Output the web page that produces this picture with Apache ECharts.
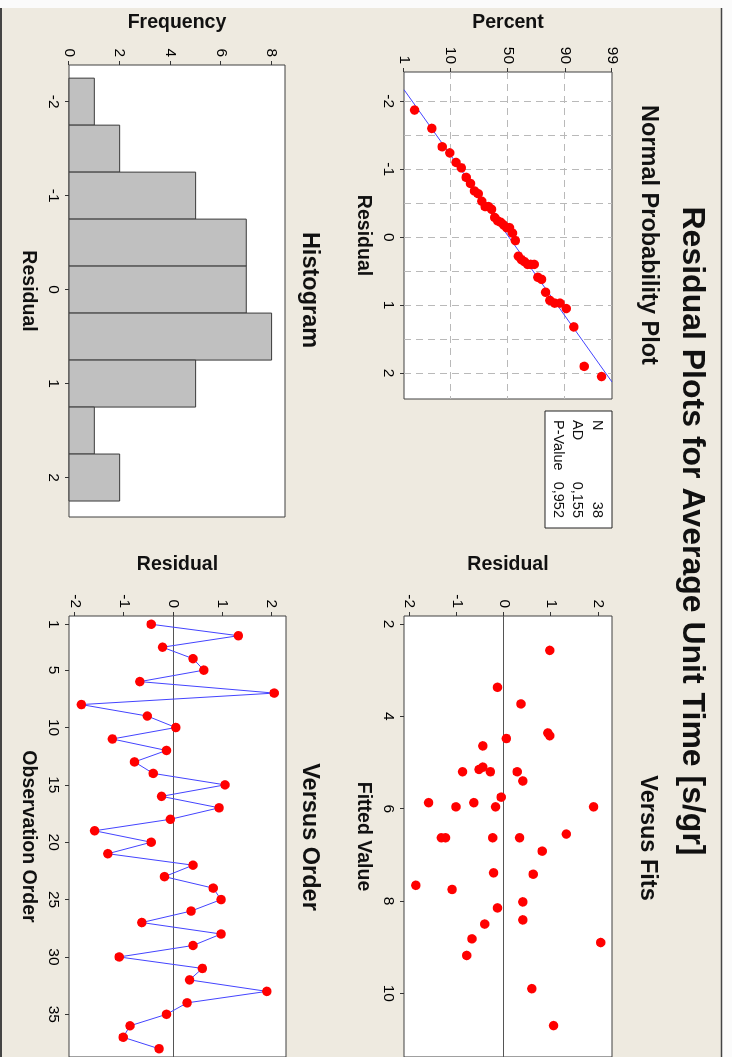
<!DOCTYPE html>
<html>
<head>
<meta charset="utf-8">
<script src="https://cdn.jsdelivr.net/npm/echarts@6/dist/echarts.min.js"></script>
<style>
html, body { margin: 0; padding: 0; background: #fff; overflow: hidden; }
/* the minitab window is landscape, the picture is turned a quarter clockwise */
#chart { position: absolute; left: 0; top: 0; width: 1057px; height: 732px;
  transform-origin: 0 0; transform: translateX(732px) rotate(90deg); }
</style>
</head>
<body>
<div id="chart"></div>
<script>
// residuals in observation order (Versus Order panel)
var residuals = [-0.45, 1.32, -0.22, 0.40, 0.62, -0.68, 2.05, -1.87, -0.53, 0.05,
    -1.24, -0.14, -0.79, -0.41, 1.05, -0.24, 0.93, -0.06, -1.60, -0.45,
    -1.33, 0.40, -0.18, 0.81, 0.97, 0.36, -0.64, 0.97, 0.40, -1.10,
    0.59, 0.33, 1.90, 0.28, -0.14, -0.88, -1.02, -0.29];
// fitted value of each observation (Versus Fits panel)
var fitted = [4.64, 6.55, 7.39, 5.40, 7.42, 8.82, 8.90, 7.66, 5.15, 4.48,
    6.63, 8.15, 9.18, 8.50, 10.70, 6.63, 4.36, 5.75, 5.87, 5.10,
    6.63, 8.02, 5.96, 6.92, 4.42, 3.73, 5.87, 2.57, 8.41, 7.75,
    9.90, 6.63, 5.96, 5.20, 3.37, 5.20, 5.96, 5.20];
// histogram
var binEdges = [-2.25, -1.75, -1.25, -0.75, -0.25, 0.25, 0.75, 1.25, 1.75, 2.25];
var binCounts = [1, 2, 5, 7, 7, 8, 5, 1, 2];
// normal line ends (residual, percent)
var npLine = [[-2.17, 1], [2.13, 99]];
// tick labels
var percentTicks = [1, 10, 50, 90, 99];
var residualTicks = [-2, -1, 0, 1, 2];
var npGridResidual = [-2, -1.5, -1, -0.5, 0, 0.5, 1, 1.5, 2];
var npGridPercent = [10, 50, 90];
var fitTicks = [2, 4, 6, 8, 10];
var freqTicks = [0, 2, 4, 6, 8];
var orderTicks = [1, 5, 10, 15, 20, 25, 30, 35];
var statNames = ['N', 'AD', 'P-Value'];
var statValues = ['38', '0,155', '0,952'];

var FONT = '"Liberation Sans", Arial, sans-serif';

//inverse normal cdf (probability paper scale)
function normInv(p) {
    var a = [-3.969683028665376e+01, 2.209460984245205e+02, -2.759285104469687e+02, 1.383577518672690e+02, -3.066479806614716e+01, 2.506628277459239e+00];
    var b = [-5.447609879822406e+01, 1.615858368580409e+02, -1.556989798598866e+02, 6.680131188771972e+01, -1.328068155288572e+01];
    var c = [-7.784894002430293e-03, -3.223964580411365e-01, -2.400758277161838e+00, -2.549671010825196e+00, 4.374664141464968e+00, 2.938163982698783e+00];
    var d = [7.784695709041462e-03, 3.224671290700398e-01, 2.445134137142996e+00, 3.754408661907416e+00];
    var q, r;
    if (p < 0.02425) {
        q = Math.sqrt(-2 * Math.log(p));
        return (((((c[0] * q + c[1]) * q + c[2]) * q + c[3]) * q + c[4]) * q + c[5]) / ((((d[0] * q + d[1]) * q + d[2]) * q + d[3]) * q + 1);
    }
    if (p > 1 - 0.02425) {
        q = Math.sqrt(-2 * Math.log(1 - p));
        return -(((((c[0] * q + c[1]) * q + c[2]) * q + c[3]) * q + c[4]) * q + c[5]) / ((((d[0] * q + d[1]) * q + d[2]) * q + d[3]) * q + 1);
    }
    q = p - 0.5;
    r = q * q;
    return (((((a[0] * r + a[1]) * r + a[2]) * r + a[3]) * r + a[4]) * r + a[5]) * q / (((((b[0] * r + b[1]) * r + b[2]) * r + b[3]) * r + b[4]) * r + 1);
}

var n = residuals.length;
var sorted = residuals.slice().sort(function (x, y) { return x - y; });
var npPoints = [];
for (var i = 0; i < n; i++) {
    npPoints.push([sorted[i], normInv((i + 1 - 0.3) / (n + 0.4))]);
}
var fitPoints = [];
var orderPoints = [];
for (var i = 0; i < n; i++) {
    fitPoints.push([fitted[i], residuals[i]]);
    orderPoints.push([i + 1, residuals[i]]);
}
var histData = [];
for (var i = 0; i < binCounts.length; i++) {
    histData.push([binEdges[i], binEdges[i + 1], binCounts[i]]);
}

var gridLines = [];
for (var i = 0; i < npGridResidual.length; i++) gridLines.push({ xAxis: npGridResidual[i] });
for (var i = 0; i < npGridPercent.length; i++) gridLines.push({ yAxis: normInv(npGridPercent[i] / 100) });

function percentLabel(v) {
    for (var i = 0; i < percentTicks.length; i++) {
        if (Math.abs(normInv(percentTicks[i] / 100) - v) < 1e-6) return String(percentTicks[i]);
    }
    return '';
}

function axis(gi, min, max, ticks, name, gap, fmt) {
    return {
        type: 'value', gridIndex: gi, min: min, max: max,
        name: name, nameLocation: 'middle', nameGap: gap,
        nameTextStyle: { fontFamily: FONT, fontSize: 19.5, fontWeight: 'bold', color: '#111' },
        axisLine: { show: false, onZero: false },
        axisTick: { show: true, length: 4, customValues: ticks, lineStyle: { color: '#333', width: 1 } },
        axisLabel: { customValues: ticks, margin: 8, fontFamily: FONT, fontSize: 15.5, color: '#000', formatter: fmt },
        splitLine: { show: false }
    };
}

var gridStyle = { show: true, backgroundColor: '#fff', borderColor: '#404040', borderWidth: 1 };

var chart = echarts.init(document.getElementById('chart'));

var titleFont = 'bold 23.5px ' + FONT;
var graphics = [
    { type: 'rect', shape: { x: 0, y: 0, width: 8, height: 732 }, style: { fill: '#fbfbfb' } },
    { type: 'rect', shape: { x: 0, y: 0, width: 1057, height: 10 }, style: { fill: '#fbfbfb' } },
    { type: 'line', shape: { x1: 8, y1: 10.5, x2: 1057, y2: 10.5 }, style: { stroke: '#444', lineWidth: 1.5 } },
    { type: 'line', shape: { x1: 8, y1: 731, x2: 1057, y2: 731 }, style: { stroke: '#444', lineWidth: 2 } },
    { type: 'text', x: 531, y: 40, style: { text: 'Residual Plots for Average Unit Time [s/gr]', font: 'bold 32px ' + FONT, fill: '#111', align: 'center', verticalAlign: 'middle' } },
    { type: 'text', x: 235, y: 84, style: { text: 'Normal Probability Plot', font: titleFont, fill: '#111', align: 'center', verticalAlign: 'middle' } },
    { type: 'text', x: 838, y: 85, style: { text: 'Versus Fits', font: titleFont, fill: '#111', align: 'center', verticalAlign: 'middle' } },
    { type: 'text', x: 290, y: 423, style: { text: 'Histogram', font: titleFont, fill: '#111', align: 'center', verticalAlign: 'middle' } },
    { type: 'text', x: 837, y: 423, style: { text: 'Versus Order', font: titleFont, fill: '#111', align: 'center', verticalAlign: 'middle' } },
    { type: 'rect', shape: { x: 411, y: 120, width: 117, height: 67 }, style: { fill: '#fff', stroke: '#222', lineWidth: 1 } }
];
//统计量
for (var i = 0; i < statNames.length; i++) {
    var ty = 135 + i * 19.7;
    graphics.push({ type: 'text', x: 420, y: ty, style: { text: statNames[i], font: '14.5px ' + FONT, fill: '#111', align: 'left', verticalAlign: 'middle' } });
    graphics.push({ type: 'text', x: 518, y: ty, style: { text: statValues[i], font: '14.5px ' + FONT, fill: '#111', align: 'right', verticalAlign: 'middle' } });
}

var option = {
    animation: false,
    backgroundColor: '#eeeae0',
    grid: [
        Object.assign({ left: 72, top: 120, width: 327, height: 208 }, gridStyle),
        Object.assign({ left: 616, top: 120, width: 454, height: 208 }, gridStyle),
        Object.assign({ left: 65, top: 447, width: 452, height: 216 }, gridStyle),
        Object.assign({ left: 616, top: 446, width: 445, height: 217 }, gridStyle)
    ],
    xAxis: [
        axis(0, -2.43, 2.38, residualTicks, 'Residual', 31),
        axis(1, 1.825, 11.38, fitTicks, 'Fitted Value', 31),
        axis(2, -2.39, 2.42, residualTicks, 'Residual', 31),
        axis(3, 0.28, 38.72, orderTicks, 'Observation Order', 31)
    ],
    yAxis: [
        axis(0, normInv(0.01), normInv(0.99), percentTicks.map(function (p) { return normInv(p / 100); }), 'Percent', 39, percentLabel),
        axis(1, -2.12, 2.29, residualTicks, 'Residual', 41),
        axis(2, 0, 8.53, freqTicks, 'Frequency', 32),
        axis(3, -2.12, 2.29, residualTicks, 'Residual', 41)
    ],
    graphic: graphics,
    series: [
        {
            type: 'line', xAxisIndex: 0, yAxisIndex: 0, z: 2,
            data: npLine.map(function (d) { return [d[0], normInv(d[1] / 100)]; }),
            symbol: 'none', lineStyle: { color: '#4444ff', width: 1 },
            markLine: {
                silent: true, z: 1, symbol: ['none', 'none'], label: { show: false },
                lineStyle: { color: '#b9b9b9', type: [7, 5], width: 1 },
                data: gridLines
            }
        },
        {
            type: 'scatter', xAxisIndex: 0, yAxisIndex: 0, z: 3,
            data: npPoints, symbol: 'circle', symbolSize: 9.5,
            itemStyle: { color: '#ff0000', opacity: 1 }
        },
        {
            type: 'scatter', xAxisIndex: 1, yAxisIndex: 1, z: 3,
            data: fitPoints, symbol: 'circle', symbolSize: 9.5,
            itemStyle: { color: '#ff0000', opacity: 1 },
            markLine: {
                silent: true, z: 1, symbol: ['none', 'none'], label: { show: false },
                lineStyle: { color: '#555', type: 'solid', width: 1 },
                data: [{ yAxis: 0 }]
            }
        },
        {
            type: 'custom', xAxisIndex: 2, yAxisIndex: 2,
            data: histData,
            encode: { x: [0, 1], y: 2 },
            renderItem: function (params, api) {
                var p0 = api.coord([api.value(0), 0]);
                var p1 = api.coord([api.value(1), api.value(2)]);
                return {
                    type: 'rect',
                    shape: { x: p0[0], y: p1[1], width: p1[0] - p0[0], height: p0[1] - p1[1] },
                    style: { fill: '#c0c0c0', stroke: '#3a3a3a', lineWidth: 1 }
                };
            }
        },
        {
            type: 'line', xAxisIndex: 3, yAxisIndex: 3, z: 3,
            data: orderPoints, symbol: 'circle', symbolSize: 9.5, showAllSymbol: true,
            itemStyle: { color: '#ff0000', opacity: 1 },
            lineStyle: { color: '#4444ff', width: 1 },
            markLine: {
                silent: true, z: 1, symbol: ['none', 'none'], label: { show: false },
                lineStyle: { color: '#555', type: 'solid', width: 1 },
                data: [{ yAxis: 0 }]
            }
        }
    ]
};

chart.setOption(option);
</script>
</body>
</html>
